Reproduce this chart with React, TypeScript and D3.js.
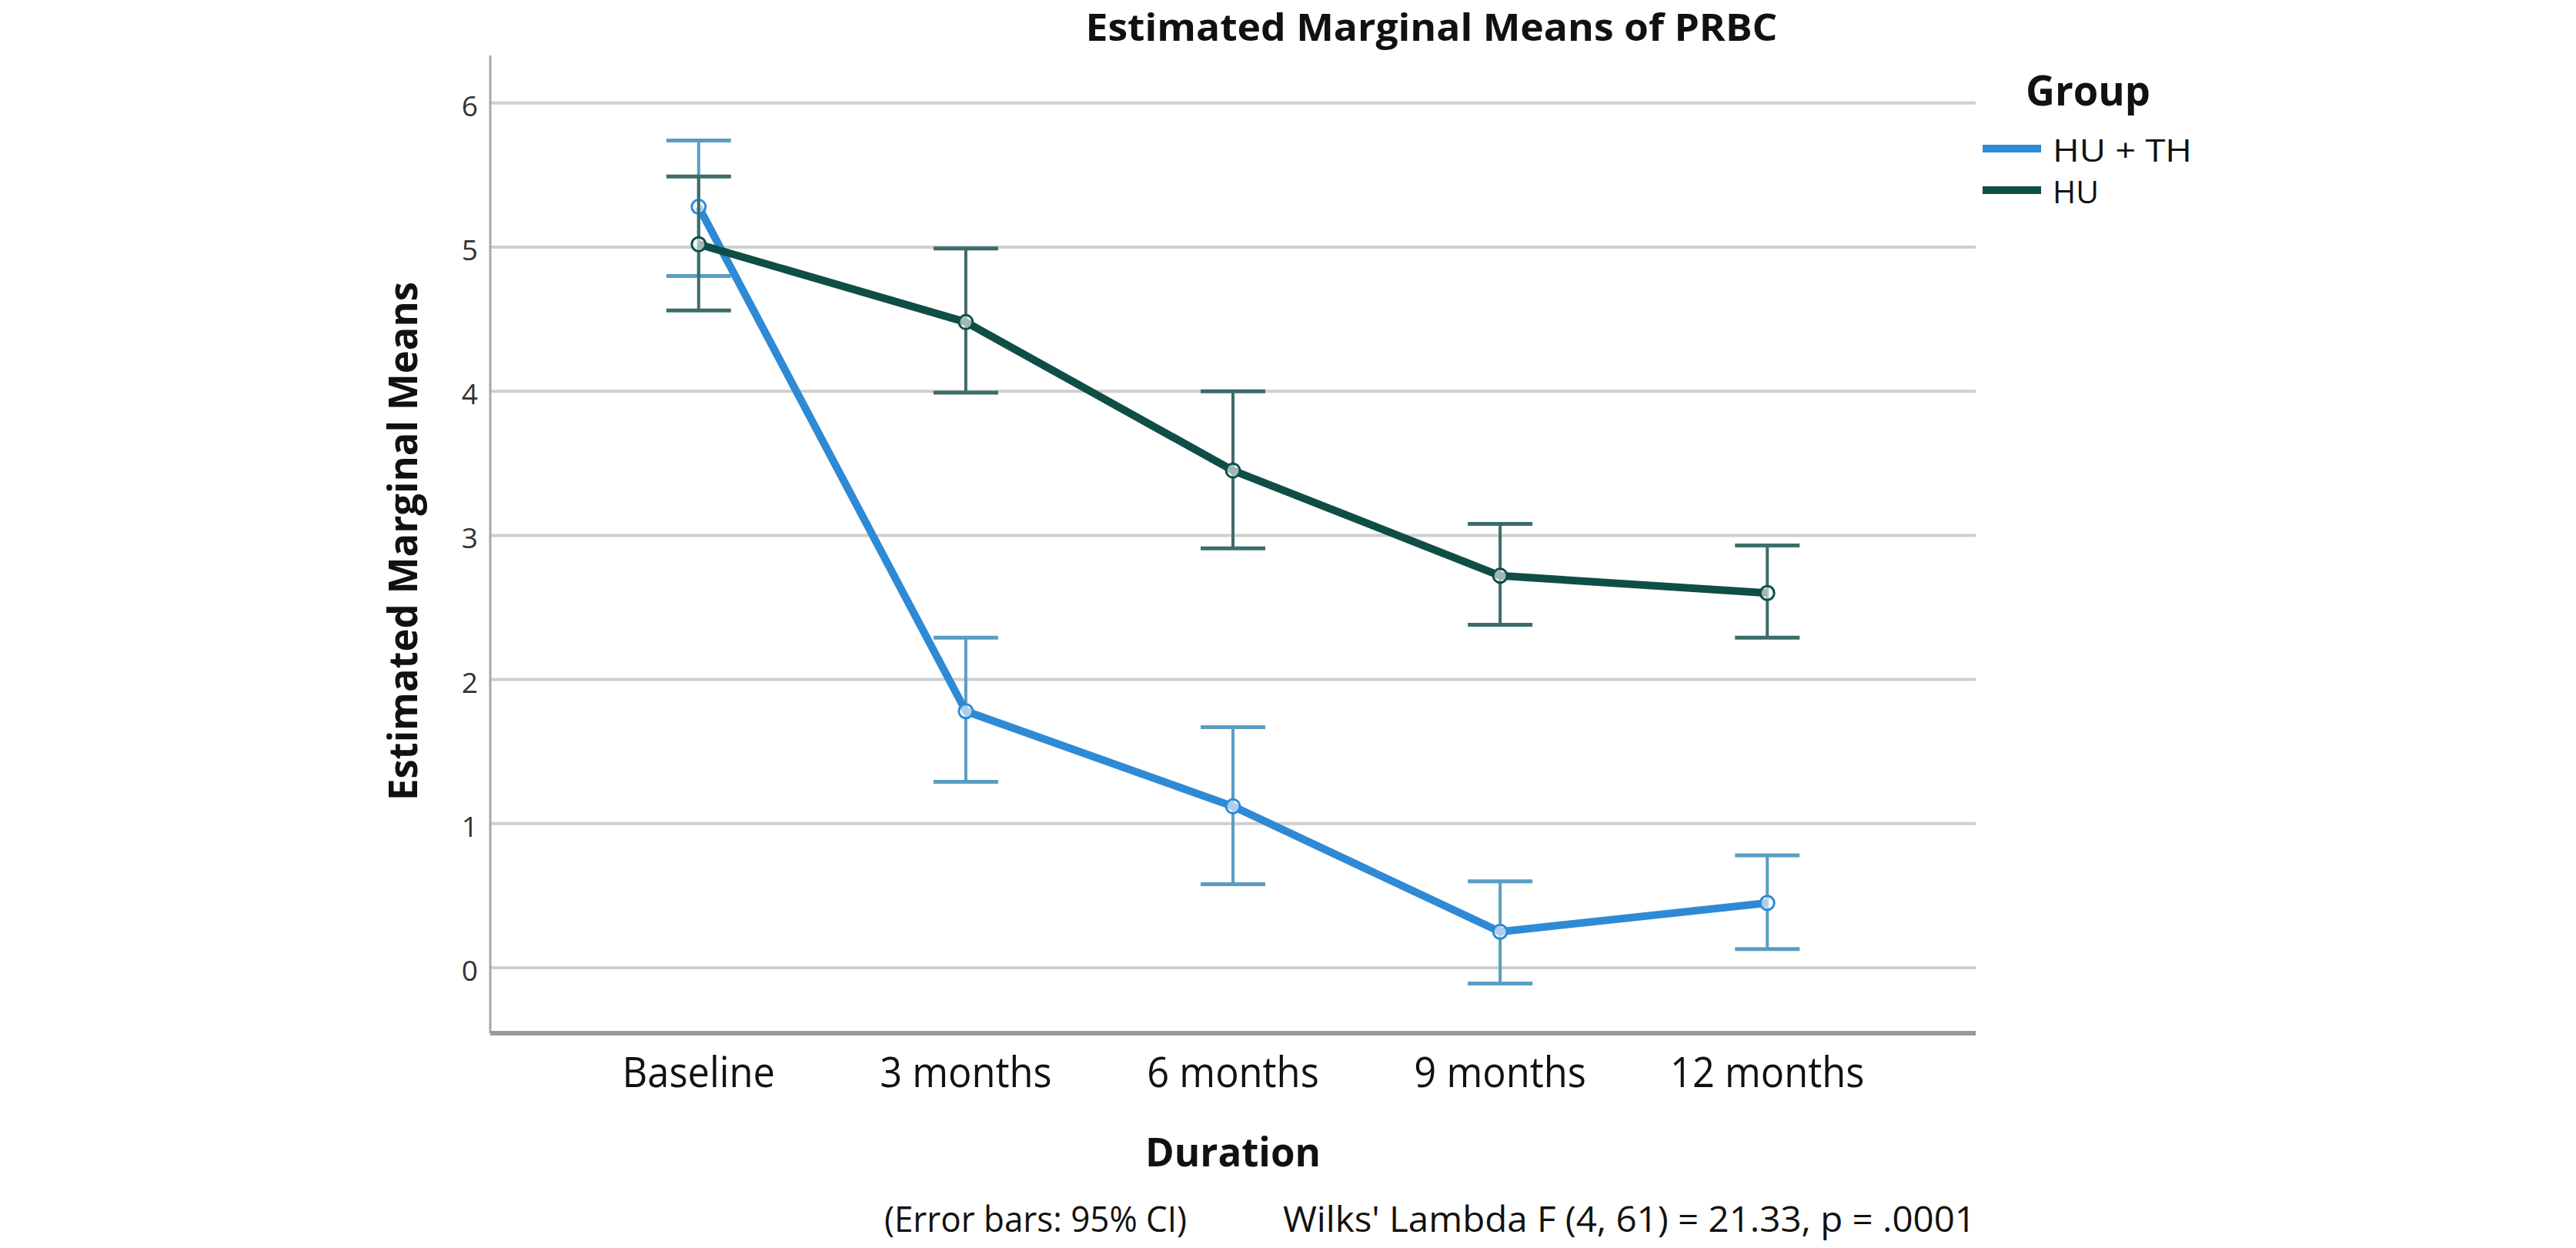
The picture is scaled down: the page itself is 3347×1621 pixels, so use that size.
import { useEffect, useRef } from 'react';
import * as d3 from 'd3';

// Chart data
const durations = ['Baseline', '3 months', '6 months', '9 months', '12 months'];
const huThMean = [5.28, 1.78, 1.12, 0.25, 0.45];
const huThLower = [4.80, 1.29, 0.58, -0.11, 0.13];
const huThUpper = [5.74, 2.29, 1.67, 0.60, 0.78];
const huMean = [5.02, 4.48, 3.45, 2.72, 2.60];
const huLower = [4.56, 3.99, 2.91, 2.38, 2.29];
const huUpper = [5.49, 4.99, 4.00, 3.08, 2.93];
const yTicks = [0, 1, 2, 3, 4, 5, 6];
const groupNames = ['HU + TH', 'HU'];

const FONT = "'Open Sans', 'Noto Sans', sans-serif";

type Point = { label: string; mean: number; lower: number; upper: number };

export default function App() {
  const svgRef = useRef<SVGSVGElement | null>(null);

  useEffect(() => {
    if (!svgRef.current) return;
    const svg = d3.select(svgRef.current);
    svg.selectAll('*').remove();

    const left = 637;
    const right = 2567;
    const top = 72;
    const bottom = 1342;

    const x = d3.scalePoint<string>().domain(durations).range([left, right]).padding(0.78);
    const y = d3.scaleLinear().domain([-0.454, 6.33]).range([bottom, top]);

    const series = [
      {
        name: groupNames[0],
        line: '#2f8ad6',
        bar: '#5b9dc2',
        points: durations.map((label, i) => ({ label, mean: huThMean[i], lower: huThLower[i], upper: huThUpper[i] })),
      },
      {
        name: groupNames[1],
        line: '#0f4e46',
        bar: '#3b6d69',
        points: durations.map((label, i) => ({ label, mean: huMean[i], lower: huLower[i], upper: huUpper[i] })),
      },
    ];

    // Gridlines
    svg.append('g')
      .selectAll('line')
      .data(yTicks)
      .enter()
      .append('line')
      .attr('x1', left)
      .attr('x2', right)
      .attr('y1', d => y(d))
      .attr('y2', d => y(d))
      .attr('stroke', '#cfcfcf')
      .attr('stroke-width', 4);

    // Y tick labels
    svg.append('g')
      .selectAll('text')
      .data(yTicks)
      .enter()
      .append('text')
      .attr('x', 621)
      .attr('y', d => y(d) + 17)
      .attr('text-anchor', 'end')
      .attr('font-family', FONT)
      .attr('font-size', 37)
      .attr('fill', '#333')
      .text(d => String(d));

    // Axes lines
    svg.append('line')
      .attr('x1', left).attr('x2', left)
      .attr('y1', top).attr('y2', bottom)
      .attr('stroke', '#a8a8a8').attr('stroke-width', 3);
    svg.append('line')
      .attr('x1', left).attr('x2', right)
      .attr('y1', bottom).attr('y2', bottom)
      .attr('stroke', '#9a9a9a').attr('stroke-width', 6);

    // X tick labels
    svg.append('g')
      .selectAll('text')
      .data(durations)
      .enter()
      .append('text')
      .attr('x', d => x(d) as number)
      .attr('y', 1412)
      .attr('text-anchor', 'middle')
      .attr('font-family', FONT)
      .attr('font-size', 55)
      .attr('fill', '#111')
      .attr('transform', d => `translate(${(x(d) as number) * 0.08},0) scale(0.92,1)`)
      .text(d => d);

    const lineGen = d3.line<Point>()
      .x(d => x(d.label) as number)
      .y(d => y(d.mean));

    const capHalf = 42;

    series.forEach(s => {
      const g = svg.append('g');

      // Error bars
      const bars = g.selectAll('.eb')
        .data(s.points)
        .enter()
        .append('g');
      bars.append('line')
        .attr('x1', d => x(d.label) as number)
        .attr('x2', d => x(d.label) as number)
        .attr('y1', d => y(d.lower))
        .attr('y2', d => y(d.upper))
        .attr('stroke', s.bar)
        .attr('stroke-width', 4);
      bars.append('line')
        .attr('x1', d => (x(d.label) as number) - capHalf)
        .attr('x2', d => (x(d.label) as number) + capHalf)
        .attr('y1', d => y(d.upper))
        .attr('y2', d => y(d.upper))
        .attr('stroke', s.bar)
        .attr('stroke-width', 5);
      bars.append('line')
        .attr('x1', d => (x(d.label) as number) - capHalf)
        .attr('x2', d => (x(d.label) as number) + capHalf)
        .attr('y1', d => y(d.lower))
        .attr('y2', d => y(d.lower))
        .attr('stroke', s.bar)
        .attr('stroke-width', 5);

      // Mean line
      g.append('path')
        .datum(s.points)
        .attr('fill', 'none')
        .attr('stroke', s.line)
        .attr('stroke-width', 10)
        .attr('stroke-linejoin', 'round')
        .attr('d', lineGen);

      // Markers
      g.selectAll('circle')
        .data(s.points)
        .enter()
        .append('circle')
        .attr('cx', d => x(d.label) as number)
        .attr('cy', d => y(d.mean))
        .attr('r', 9)
        .attr('fill', 'rgba(255,255,255,0.6)')
        .attr('stroke', s.line)
        .attr('stroke-width', 3);
    });

    // Title
    svg.append('text')
      .attr('x', 1860)
      .attr('y', 53)
      .attr('text-anchor', 'middle')
      .attr('font-family', FONT)
      .attr('font-weight', 'bold')
      .attr('font-size', 48)
      .attr('textLength', 899)
      .attr('lengthAdjust', 'spacingAndGlyphs')
      .attr('fill', '#111')
      .text('Estimated Marginal Means of PRBC');

    // Y axis label
    svg.append('text')
      .attr('transform', 'translate(542,703) rotate(-90)')
      .attr('text-anchor', 'middle')
      .attr('font-family', FONT)
      .attr('font-weight', 'bold')
      .attr('font-size', 52)
      .attr('textLength', 674)
      .attr('lengthAdjust', 'spacingAndGlyphs')
      .attr('fill', '#111')
      .text('Estimated Marginal Means');

    // X axis label
    svg.append('text')
      .attr('x', 1602)
      .attr('y', 1515)
      .attr('text-anchor', 'middle')
      .attr('font-family', FONT)
      .attr('font-weight', 'bold')
      .attr('font-size', 52)
      .attr('textLength', 228)
      .attr('lengthAdjust', 'spacingAndGlyphs')
      .attr('fill', '#111')
      .text('Duration');

    // Footnotes
    svg.append('text')
      .attr('x', 1149)
      .attr('y', 1600)
      .attr('font-family', FONT)
      .attr('font-size', 45)
      .attr('textLength', 393)
      .attr('lengthAdjust', 'spacingAndGlyphs')
      .attr('fill', '#111')
      .text('(Error bars: 95% CI)');
    svg.append('text')
      .attr('x', 1667)
      .attr('y', 1600)
      .attr('font-family', FONT)
      .attr('font-size', 45)
      .attr('textLength', 900)
      .attr('lengthAdjust', 'spacingAndGlyphs')
      .attr('fill', '#111')
      .text("Wilks' Lambda F (4, 61) = 21.33, p = .0001");

    // Legend
    svg.append('text')
      .attr('x', 2632)
      .attr('y', 137)
      .attr('font-family', FONT)
      .attr('font-weight', 'bold')
      .attr('font-size', 54)
      .attr('textLength', 162)
      .attr('lengthAdjust', 'spacingAndGlyphs')
      .attr('fill', '#111')
      .text('Group');

    const legendWidths = [181, 60];
    series.forEach((s, i) => {
      const ly = 193 + i * 54;
      svg.append('line')
        .attr('x1', 2576).attr('x2', 2652)
        .attr('y1', ly).attr('y2', ly)
        .attr('stroke', s.line)
        .attr('stroke-width', 10);
      svg.append('text')
        .attr('x', 2667)
        .attr('y', ly + 17)
        .attr('font-family', FONT)
        .attr('font-size', 40)
        .attr('textLength', legendWidths[i])
        .attr('lengthAdjust', 'spacingAndGlyphs')
        .attr('fill', '#111')
        .text(s.name);
    });
  }, []);

  return (
    <svg
      ref={svgRef}
      width={3347}
      height={1621}
      style={{ position: 'absolute', left: 0, top: 0, background: '#fff' }}
    />
  );
}
